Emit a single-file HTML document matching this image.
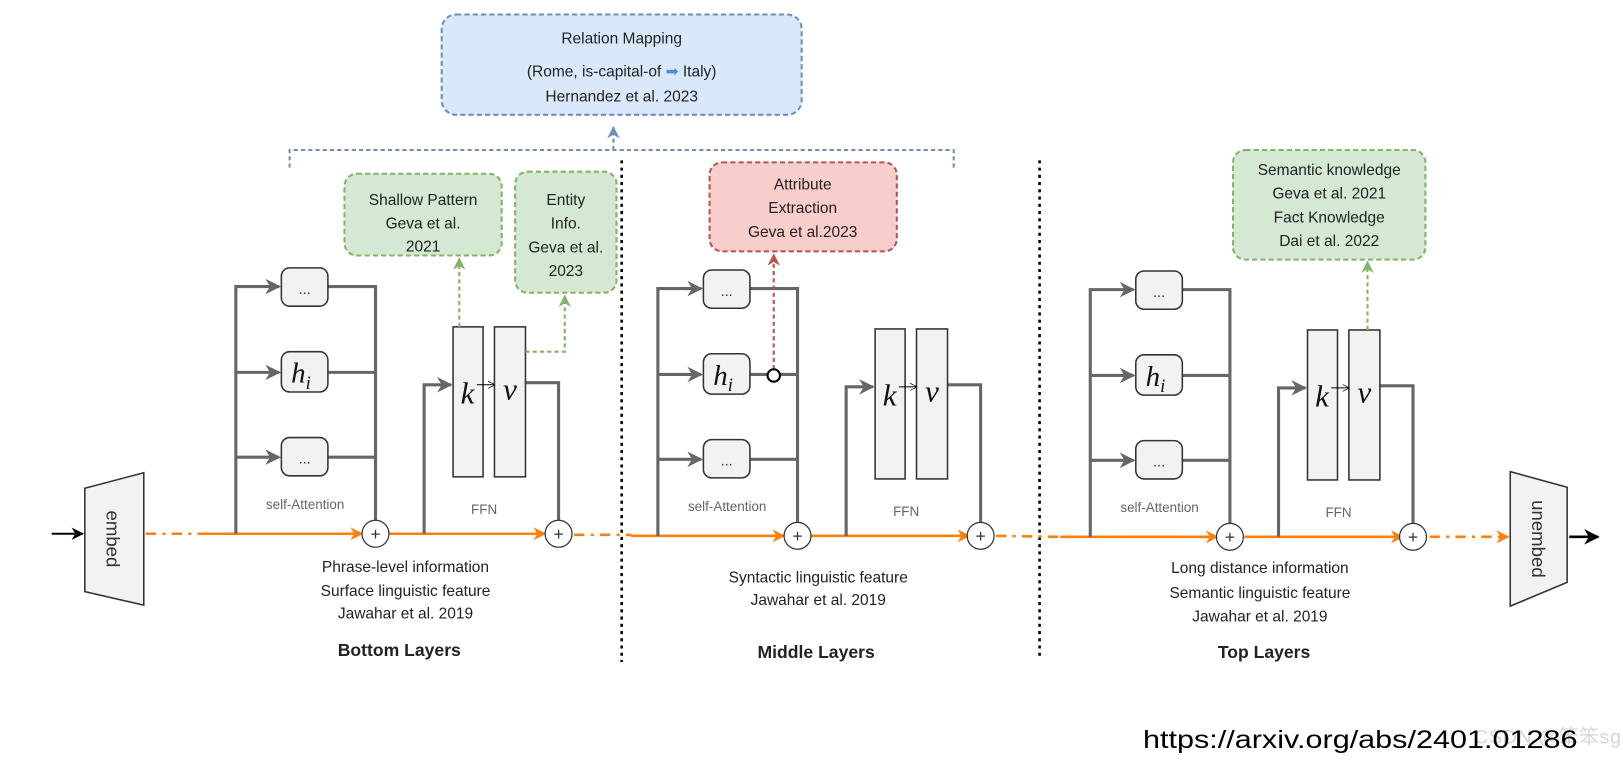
<!DOCTYPE html>
<html><head><meta charset="utf-8"><style>
html,body{margin:0;padding:0;background:#fff;}
svg{display:block;}
text{font-family:"Liberation Sans",sans-serif;}
text.m{font-family:"Liberation Serif",serif;font-style:italic;}
</style></head><body>
<svg width="1623" height="761" viewBox="0 0 1569 735.7" preserveAspectRatio="none" xmlns="http://www.w3.org/2000/svg">
<defs>
<marker id="ga" viewBox="0 0 10 10" refX="9" refY="5" markerWidth="5" markerHeight="5" orient="auto"><path d="M0,0 L10,5 L0,10 L3,5z" fill="#666"/></marker>
<marker id="oa" viewBox="0 0 10 10" refX="9" refY="5" markerWidth="5" markerHeight="5" orient="auto"><path d="M0,0 L10,5 L0,10 L3,5z" fill="#ff7f0e"/></marker>
<marker id="ka" viewBox="0 0 10 10" refX="9" refY="5" markerWidth="6" markerHeight="6" orient="auto"><path d="M0,0 L10,5 L0,10 L3,5z" fill="#000"/></marker>
<marker id="gra" viewBox="0 0 10 10" refX="9" refY="5" markerWidth="6" markerHeight="6" orient="auto"><path d="M0,0 L10,5 L0,10 L3,5z" fill="#82b366"/></marker>
<marker id="ra" viewBox="0 0 10 10" refX="9" refY="5" markerWidth="6" markerHeight="6" orient="auto"><path d="M0,0 L10,5 L0,10 L3,5z" fill="#b85450"/></marker>
<marker id="ba" viewBox="0 0 10 10" refX="9" refY="5" markerWidth="6" markerHeight="6" orient="auto"><path d="M0,0 L10,5 L0,10 L3,5z" fill="#6c8ebf"/></marker>
<marker id="sa" viewBox="0 0 10 10" refX="9" refY="5" markerWidth="7" markerHeight="7" orient="auto"><path d="M0,0 L10,5 L0,10" fill="none" stroke="#000" stroke-width="1"/></marker>
</defs>

<rect x="427" y="14" width="348" height="97" rx="14" fill="#dae8fc" stroke="#6c8ebf" stroke-width="2" stroke-dasharray="5,3"/>
<text x="601" y="42" font-size="15" text-anchor="middle" fill="#222">Relation Mapping</text>
<text x="601" y="74" font-size="15" text-anchor="middle" fill="#222">(Rome, is-capital-of <tspan fill="#4a90d9">➡</tspan> Italy)</text>
<text x="601" y="98" font-size="15" text-anchor="middle" fill="#222">Hernandez et al. 2023</text>
<path d="M280,162 V145 H922 V162" fill="none" stroke="#6c8ebf" stroke-width="2" stroke-dasharray="4,3"/>
<line x1="593" y1="145" x2="593" y2="123" stroke="#6c8ebf" stroke-width="2" stroke-dasharray="4,3" marker-end="url(#ba)"/>

<line x1="601" y1="155" x2="601" y2="640" stroke="#000" stroke-width="2.5" stroke-dasharray="3,4"/>
<line x1="1005" y1="155" x2="1005" y2="635" stroke="#000" stroke-width="2.5" stroke-dasharray="3,4"/>

<rect x="333" y="168" width="152" height="79" rx="12" fill="#d5e8d4" stroke="#82b366" stroke-width="2" stroke-dasharray="5,3"/>
<text x="409" y="198" font-size="15" text-anchor="middle" fill="#222">Shallow Pattern</text>
<text x="409" y="221" font-size="15" text-anchor="middle" fill="#222">Geva et al.</text>
<text x="409" y="243" font-size="15" text-anchor="middle" fill="#222">2021</text>
<rect x="498" y="166" width="98" height="117" rx="12" fill="#d5e8d4" stroke="#82b366" stroke-width="2" stroke-dasharray="5,3"/>
<text x="547" y="198" font-size="15" text-anchor="middle" fill="#222">Entity</text>
<text x="547" y="221" font-size="15" text-anchor="middle" fill="#222">Info.</text>
<text x="547" y="244" font-size="15" text-anchor="middle" fill="#222">Geva et al.</text>
<text x="547" y="267" font-size="15" text-anchor="middle" fill="#222">2023</text>
<rect x="686" y="157" width="181" height="86" rx="12" fill="#f8cecc" stroke="#b85450" stroke-width="2" stroke-dasharray="5,3"/>
<text x="776" y="183" font-size="15" text-anchor="middle" fill="#222">Attribute</text>
<text x="776" y="206" font-size="15" text-anchor="middle" fill="#222">Extraction</text>
<text x="776" y="229" font-size="15" text-anchor="middle" fill="#222">Geva et al.2023</text>
<rect x="1192" y="145" width="186" height="106" rx="12" fill="#d5e8d4" stroke="#82b366" stroke-width="2" stroke-dasharray="5,3"/>
<text x="1285" y="169" font-size="15" text-anchor="middle" fill="#222">Semantic knowledge</text>
<text x="1285" y="192" font-size="15" text-anchor="middle" fill="#222">Geva et al. 2021</text>
<text x="1285" y="215" font-size="15" text-anchor="middle" fill="#222">Fact Knowledge</text>
<text x="1285" y="238" font-size="15" text-anchor="middle" fill="#222">Dai et al. 2022</text>

<line x1="50" y1="516" x2="80" y2="516" stroke="#000" stroke-width="2" marker-end="url(#ka)"/>
<polygon points="82,472 139,457 139,585 82,572" fill="#f2f2f2" stroke="#333" stroke-width="1.5"/>
<text transform="translate(103,521) rotate(90)" font-size="18" text-anchor="middle" fill="#333">embed</text>
<polygon points="1460,456 1515,471 1515,563 1460,586" fill="#f2f2f2" stroke="#333" stroke-width="1.5"/>
<text transform="translate(1481,521) rotate(90)" font-size="18" text-anchor="middle" fill="#333">unembed</text>
<line x1="1517" y1="519" x2="1545" y2="519" stroke="#000" stroke-width="2.5" marker-end="url(#ka)"/>

<g stroke="#ff7f0e" stroke-width="2.5" fill="none">
<line x1="141" y1="516" x2="195" y2="516" stroke-dasharray="10,6,3,6"/>
<line x1="195" y1="516" x2="350" y2="516" marker-end="url(#oa)"/>
<line x1="376" y1="516" x2="527" y2="516" marker-end="url(#oa)"/>
<line x1="555" y1="517" x2="610" y2="517" stroke-dasharray="10,6,3,6"/>
<line x1="610" y1="518" x2="758" y2="518" marker-end="url(#oa)"/>
<line x1="784" y1="518" x2="937" y2="518" marker-end="url(#oa)"/>
<line x1="963" y1="518" x2="1025" y2="519" stroke-dasharray="10,6,3,6"/>
<line x1="1025" y1="519" x2="1177" y2="519" marker-end="url(#oa)"/>
<line x1="1203" y1="519" x2="1356" y2="519" marker-end="url(#oa)"/>
<line x1="1382" y1="519" x2="1458" y2="519" stroke-dasharray="10,6,3,6" marker-end="url(#oa)"/>
</g>

<g transform="translate(0,0)">
<g stroke="#666" stroke-width="3" fill="none">
<path d="M228,516 V277 H270" marker-end="url(#ga)"/>
<path d="M228,360 H270" marker-end="url(#ga)"/>
<path d="M228,442 H270" marker-end="url(#ga)"/>
<path d="M317,277 H363 V503"/>
<path d="M317,360 H363"/>
<path d="M317,442 H363"/>
<path d="M410,516 V372 H436" marker-end="url(#ga)"/>
<path d="M508,370 H540 V503"/>
</g>
<rect x="272" y="259" width="45" height="37" rx="8" fill="#f2f2f2" stroke="#333" stroke-width="1.5"/>
<text x="294.5" y="284" font-size="14" text-anchor="middle" fill="#333">...</text>
<rect x="272" y="340" width="45" height="39" rx="8" fill="#f2f2f2" stroke="#333" stroke-width="1.5"/>
<text class="m" x="291" y="370" font-size="28" text-anchor="middle" fill="#111">h<tspan font-size="18" dy="6">i</tspan></text>
<rect x="272" y="423" width="45" height="37" rx="8" fill="#f2f2f2" stroke="#333" stroke-width="1.5"/>
<text x="294.5" y="448" font-size="14" text-anchor="middle" fill="#333">...</text>
<text x="295" y="492" font-size="13" text-anchor="middle" fill="#666">self-Attention</text>
<rect x="438" y="316" width="29" height="145" fill="#f2f2f2" stroke="#333" stroke-width="1.5"/>
<rect x="478" y="316" width="30" height="145" fill="#f2f2f2" stroke="#333" stroke-width="1.5"/>
<text class="m" x="452" y="390" font-size="30" text-anchor="middle" fill="#111">k</text>
<text class="m" x="493" y="386" font-size="30" text-anchor="middle" fill="#111">v</text>
<line x1="461" y1="372" x2="478" y2="372" stroke="#000" stroke-width="1" marker-end="url(#sa)"/>
<text x="468" y="497" font-size="13" text-anchor="middle" fill="#666">FFN</text>
<circle cx="363" cy="516" r="13" fill="#fff" stroke="#333" stroke-width="1.2"/>
<text x="363" y="522" font-size="17" text-anchor="middle" fill="#333">+</text>
<circle cx="540" cy="516" r="13" fill="#fff" stroke="#333" stroke-width="1.2"/>
<text x="540" y="522" font-size="17" text-anchor="middle" fill="#333">+</text>
</g>

<g transform="translate(408,2)">
<g stroke="#666" stroke-width="3" fill="none">
<path d="M228,516 V277 H270" marker-end="url(#ga)"/>
<path d="M228,360 H270" marker-end="url(#ga)"/>
<path d="M228,442 H270" marker-end="url(#ga)"/>
<path d="M317,277 H363 V503"/>
<path d="M317,360 H363"/>
<path d="M317,442 H363"/>
<path d="M410,516 V372 H436" marker-end="url(#ga)"/>
<path d="M508,370 H540 V503"/>
</g>
<rect x="272" y="259" width="45" height="37" rx="8" fill="#f2f2f2" stroke="#333" stroke-width="1.5"/>
<text x="294.5" y="284" font-size="14" text-anchor="middle" fill="#333">...</text>
<rect x="272" y="340" width="45" height="39" rx="8" fill="#f2f2f2" stroke="#333" stroke-width="1.5"/>
<text class="m" x="291" y="370" font-size="28" text-anchor="middle" fill="#111">h<tspan font-size="18" dy="6">i</tspan></text>
<rect x="272" y="423" width="45" height="37" rx="8" fill="#f2f2f2" stroke="#333" stroke-width="1.5"/>
<text x="294.5" y="448" font-size="14" text-anchor="middle" fill="#333">...</text>
<text x="295" y="492" font-size="13" text-anchor="middle" fill="#666">self-Attention</text>
<rect x="438" y="316" width="29" height="145" fill="#f2f2f2" stroke="#333" stroke-width="1.5"/>
<rect x="478" y="316" width="30" height="145" fill="#f2f2f2" stroke="#333" stroke-width="1.5"/>
<text class="m" x="452" y="390" font-size="30" text-anchor="middle" fill="#111">k</text>
<text class="m" x="493" y="386" font-size="30" text-anchor="middle" fill="#111">v</text>
<line x1="461" y1="372" x2="478" y2="372" stroke="#000" stroke-width="1" marker-end="url(#sa)"/>
<text x="468" y="497" font-size="13" text-anchor="middle" fill="#666">FFN</text>
<circle cx="363" cy="516" r="13" fill="#fff" stroke="#333" stroke-width="1.2"/>
<text x="363" y="522" font-size="17" text-anchor="middle" fill="#333">+</text>
<circle cx="540" cy="516" r="13" fill="#fff" stroke="#333" stroke-width="1.2"/>
<text x="540" y="522" font-size="17" text-anchor="middle" fill="#333">+</text>
</g>

<g transform="translate(826,3)">
<g stroke="#666" stroke-width="3" fill="none">
<path d="M228,516 V277 H270" marker-end="url(#ga)"/>
<path d="M228,360 H270" marker-end="url(#ga)"/>
<path d="M228,442 H270" marker-end="url(#ga)"/>
<path d="M317,277 H363 V503"/>
<path d="M317,360 H363"/>
<path d="M317,442 H363"/>
<path d="M410,516 V372 H436" marker-end="url(#ga)"/>
<path d="M508,370 H540 V503"/>
</g>
<rect x="272" y="259" width="45" height="37" rx="8" fill="#f2f2f2" stroke="#333" stroke-width="1.5"/>
<text x="294.5" y="284" font-size="14" text-anchor="middle" fill="#333">...</text>
<rect x="272" y="340" width="45" height="39" rx="8" fill="#f2f2f2" stroke="#333" stroke-width="1.5"/>
<text class="m" x="291" y="370" font-size="28" text-anchor="middle" fill="#111">h<tspan font-size="18" dy="6">i</tspan></text>
<rect x="272" y="423" width="45" height="37" rx="8" fill="#f2f2f2" stroke="#333" stroke-width="1.5"/>
<text x="294.5" y="448" font-size="14" text-anchor="middle" fill="#333">...</text>
<text x="295" y="492" font-size="13" text-anchor="middle" fill="#666">self-Attention</text>
<rect x="438" y="316" width="29" height="145" fill="#f2f2f2" stroke="#333" stroke-width="1.5"/>
<rect x="478" y="316" width="30" height="145" fill="#f2f2f2" stroke="#333" stroke-width="1.5"/>
<text class="m" x="452" y="390" font-size="30" text-anchor="middle" fill="#111">k</text>
<text class="m" x="493" y="386" font-size="30" text-anchor="middle" fill="#111">v</text>
<line x1="461" y1="372" x2="478" y2="372" stroke="#000" stroke-width="1" marker-end="url(#sa)"/>
<text x="468" y="497" font-size="13" text-anchor="middle" fill="#666">FFN</text>
<circle cx="363" cy="516" r="13" fill="#fff" stroke="#333" stroke-width="1.2"/>
<text x="363" y="522" font-size="17" text-anchor="middle" fill="#333">+</text>
<circle cx="540" cy="516" r="13" fill="#fff" stroke="#333" stroke-width="1.2"/>
<text x="540" y="522" font-size="17" text-anchor="middle" fill="#333">+</text>
</g>

<line x1="444" y1="316" x2="444" y2="250" stroke="#82b366" stroke-width="2" stroke-dasharray="4,3" marker-end="url(#gra)"/>
<path d="M508,340 H546 V286" fill="none" stroke="#82b366" stroke-width="2" stroke-dasharray="4,3" marker-end="url(#gra)"/>
<line x1="748" y1="357" x2="748" y2="246" stroke="#b85450" stroke-width="2" stroke-dasharray="4,3" marker-end="url(#ra)"/>
<circle cx="748" cy="363" r="6" fill="#fff" stroke="#000" stroke-width="2"/>
<line x1="1322" y1="319" x2="1322" y2="253" stroke="#82b366" stroke-width="2" stroke-dasharray="4,3" marker-end="url(#gra)"/>

<g font-size="15" fill="#222" text-anchor="middle">
<text x="392" y="553">Phrase-level information</text>
<text x="392" y="576">Surface linguistic feature</text>
<text x="392" y="598">Jawahar et al. 2019</text>
<text x="791" y="563">Syntactic linguistic feature</text>
<text x="791" y="585">Jawahar et al. 2019</text>
<text x="1218" y="554">Long distance information</text>
<text x="1218" y="578">Semantic linguistic feature</text>
<text x="1218" y="601">Jawahar et al. 2019</text>
</g>
<g font-size="17" font-weight="bold" fill="#222" text-anchor="middle">
<text x="386" y="634">Bottom  Layers</text>
<text x="789" y="636">Middle Layers</text>
<text x="1222" y="636">Top Layers</text>
</g>
<text x="1425" y="719" font-size="19" fill="#ccc" opacity="0.8" textLength="142">CSDN @笨笨sg</text>
<text x="1105" y="723" font-size="24" fill="#000" textLength="420" lengthAdjust="spacingAndGlyphs">https://arxiv.org/abs/2401.01286</text>
</svg>
</body></html>
